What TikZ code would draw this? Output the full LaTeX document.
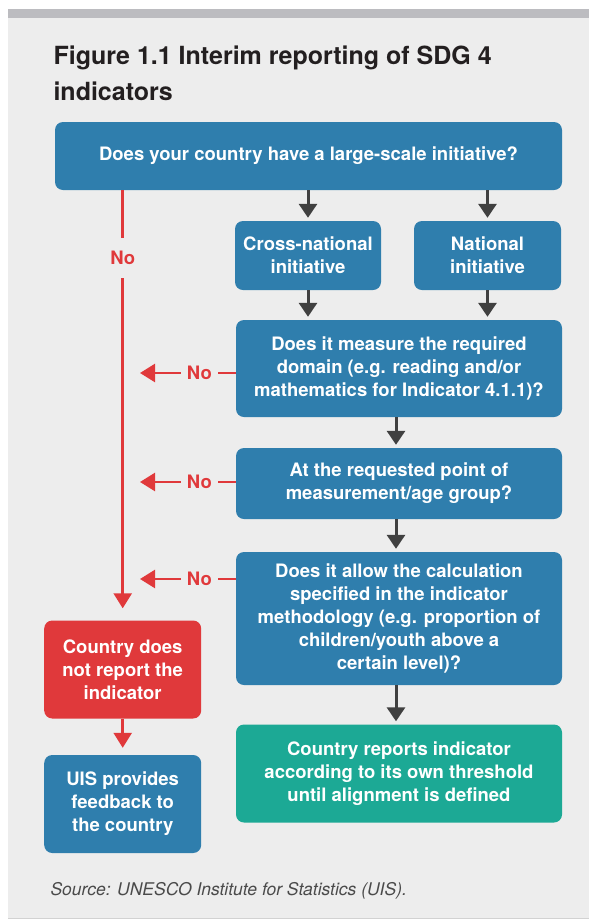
\documentclass[tikz,border=0pt]{standalone}
\usepackage{fontspec}
\setmainfont{TeX Gyre Heros}
\usetikzlibrary{arrows.meta}
\definecolor{boxblue}{HTML}{2F7EAD}
\definecolor{boxred}{HTML}{E0393B}
\definecolor{boxgreen}{HTML}{1CA995}
\definecolor{arrowgrey}{HTML}{404040}
\definecolor{panelgrey}{HTML}{EDEDED}
\definecolor{bargrey}{HTML}{BCBCC0}
\definecolor{rulegrey}{HTML}{D2D2D2}
\definecolor{titleblack}{HTML}{231F20}
\definecolor{sourcegrey}{HTML}{4A4A4A}
\begin{document}
\begin{tikzpicture}[x=1pt, y=-1pt,
  box/.style={rounded corners=8pt, inner sep=0pt, align=center, text=white,
    font=\bfseries\fontsize{18.5}{23}\selectfont},
  bluebox/.style={box, fill=boxblue},
  redbox/.style={box, fill=boxred},
  greenbox/.style={box, fill=boxgreen},
  flow/.style={arrowgrey, line width=3pt, -{Triangle[width=18pt,length=14pt]}, shorten >=3pt},
  noflow/.style={boxred, line width=2.5pt, -{Triangle[width=18pt,length=15pt]}},
  nolabel/.style={fill=panelgrey, text=boxred, inner xsep=6pt, inner ysep=13pt,
    font=\bfseries\fontsize{18.5}{23}\selectfont}]
\fill[white] (0,0) rectangle (589,919);
\fill[panelgrey] (8,17) rectangle (589,917.5);
\fill[bargrey] (8,8.5) rectangle (589,18);
\fill[rulegrey] (8,917.5) rectangle (589,919);
\node[anchor=base west, text=titleblack, font=\bfseries\fontsize{25}{36}\selectfont] (title1) at (50,64.3) {Figure 1.1 Interim reporting of SDG 4};
\node[anchor=base west, text=titleblack, font=\bfseries\fontsize{25}{36}\selectfont] (title2) at (50,100.7) {indicators};
\node[bluebox, minimum width=507pt, minimum height=68pt] (top) at (308.5,156) {Does your country have a large-scale initiative?};
\node[bluebox, minimum width=146pt, minimum height=69pt] (cross) at (308,255.5) {Cross-national\\initiative};
\node[bluebox, minimum width=147pt, minimum height=69pt] (natl) at (487.5,255.5) {National\\initiative};
\node[bluebox, minimum width=326pt, minimum height=97pt] (measure) at (399,368.5) {Does it measure the required\\domain (e.g. reading and/or\\mathematics for Indicator 4.1.1)?};
\node[bluebox, minimum width=326pt, minimum height=71pt] (point) at (399,483.5) {At the requested point of\\measurement/age group?};
\node[bluebox, minimum width=326pt, minimum height=133pt] (calc) at (399,618.5) {Does it allow the calculation\\specified in the indicator\\methodology (e.g. proportion of\\children/youth above a\\certain level)?};
\node[greenbox, minimum width=326pt, minimum height=98pt] (report) at (399,773.5) {Country reports indicator\\according to its own threshold\\until alignment is defined};
\node[redbox, minimum width=157pt, minimum height=98pt] (norep) at (122.7,669.5) {Country does\\not report the\\indicator};
\node[bluebox, minimum width=157pt, minimum height=98pt] (uis) at (122.7,804) {UIS provides\\feedback to\\the country};
\coordinate (no1) at (140,373);
\coordinate (no2) at (140,482);
\coordinate (no3) at (140,579);
\draw[flow] (top.south -| cross.north) -- (cross.north);
\draw[flow] (top.south -| natl.north) -- (natl.north);
\draw[flow] (cross.south) -- (cross.south |- measure.north);
\draw[flow] (natl.south) -- (natl.south |- measure.north);
\draw[flow] ([xshift=-3pt]measure.south) -- ([xshift=-3pt]point.north);
\draw[flow] ([xshift=-3pt]point.south) -- ([xshift=-3pt]calc.north);
\draw[flow] ([xshift=-3pt]calc.south) -- ([xshift=-3pt]report.north);
\draw[noflow, shorten >=12pt] (top.south -| norep.north) -- node[nolabel, pos=0.158] {No} (norep.north);
\draw[noflow] (measure.west |- no1) -- node[nolabel, pos=0.38] {No} (no1);
\draw[noflow] (point.west |- no2) -- node[nolabel, pos=0.38] {No} (no2);
\draw[noflow] (calc.west |- no3) -- node[nolabel, pos=0.38] {No} (no3);
\draw[noflow, shorten >=7pt] (norep.south) -- (uis.north);
\node[anchor=base west, text=sourcegrey, font=\itshape\fontsize{17.5}{21}\selectfont] (source) at (47,895) {Source: UNESCO Institute for Statistics (UIS).};
\end{tikzpicture}
\end{document}
